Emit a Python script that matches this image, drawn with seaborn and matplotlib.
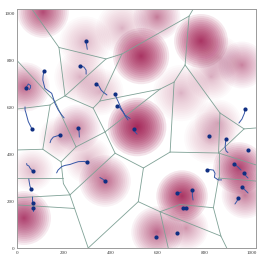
import numpy as np
import pandas as pd
import matplotlib
matplotlib.use("Agg")
import matplotlib.pyplot as plt
from matplotlib.patches import Circle
import seaborn as sns

sns.set_theme(style="white")
plt.rcParams["font.family"] = ["Liberation Serif", "DejaVu Serif"]

# resource patches (centre, radius, strength)
blob_x = [110, 597, 785, 529, 960, 862, 290, 33, 268, 354, 700, 828, 858, 512, 255,
          29, 375, 302, 182, 63, 704, 947, 973, 597, 721, 823, 448]
blob_y = [1008, 987, 885, 820, 782, 812, 880, 688, 731, 667, 662, 731, 534, 517, 513,
          128, 286, 376, 470, 333, 222, 342, 226, 68, 85, 470, 940]
blob_r = [110, 100, 115, 120, 100, 95, 110, 105, 110, 100, 120, 100, 100, 125, 100,
          115, 110, 100, 90, 90, 110, 110, 100, 110, 95, 110, 110]
blob_s = [0.75, 0.55, 0.85, 0.85, 0.5, 0.28, 0.32, 0.65, 0.28, 0.28, 0.32, 0.28, 0.32, 0.9, 0.5,
          0.8, 0.65, 0.28, 0.28, 0.28, 0.85, 0.8, 0.55, 0.65, 0.42, 0.32, 0.28]

# voronoi edges, start (x0, y0) -> end (x1, y1)
edge_x0 = [63, 178, 379, 447, 734, 734, 717, 717,
           866, 969, 866, 860, 670, 610, 610, 670,
           447, 353, 324, 204, 204, 204, 204, 0,
           161, 161, 0, 140, 0, 109, 187, 251,
           375, 418, 418, 539, 653, 539, 517, 187,
           197, 225, 0, 0, 0, 517, 610, 610,
           695, 838, 860, 860, 860, 838, 870, 610]
edge_y0 = [1020, 857, 808, 829, 991, 991, 782, 782,
           577, 509, 577, 406, 709, 679, 679, 709,
           829, 628, 598, 650, 650, 650, 650, 800,
           626, 626, 594, 611, 419, 422, 368, 432,
           496, 405, 405, 342, 410, 342, 198, 368,
           275, 227, 300, 215, 184, 198, 155, 155,
           186, 172, 299, 299, 406, 172, 51, 155]
edge_x1 = [178, 379, 447, 734, 751, 717, 670, 866,
           969, 1020, 860, 969, 610, 353, 375, 653,
           353, 324, 375, 178, 379, 324, 161, 161,
           251, 140, 140, 109, 109, 187, 251, 375,
           418, 539, 225, 653, 860, 517, 303, 197,
           225, 303, 197, 225, 245, 610, 645, 695,
           838, 860, 860, 1020, 1020, 870, 895, 870]
edge_y1 = [857, 808, 829, 991, 1020, 782, 709, 577,
           509, 513, 406, 509, 679, 628, 496, 410,
           628, 598, 496, 857, 808, 598, 626, 626,
           432, 611, 611, 422, 422, 368, 432, 496,
           405, 342, 227, 410, 406, 198, 0, 275,
           227, 0, 300, 227, 169, 155, 0, 186,
           172, 299, 406, 286, 355, 51, 0, 51]

# agents: current position, then trail points going back in time
agent_x = [292, 268, 114, 37, 338, 418, 426, 62, 261, 184, 299, 66, 59, 66, 66, 375, 500,
           973, 819, 892, 984, 927, 970, 962, 944, 809, 682, 748, 708, 721, 591, 682]
agent_y = [883, 779, 758, 685, 701, 659, 607, 510, 513, 483, 366, 328, 251, 191, 170, 286, 507,
           594, 479, 466, 417, 359, 322, 259, 215, 333, 233, 248, 173, 169, 49, 65]
trail_x = [[296, 299], [285, 294, 294], [110, 109, 118, 147, 161, 175, 190, 200],
           [47, 57, 56, 51], [349, 358, 366, 383], [422, 430, 443, 460, 482],
           [435, 452, 464, 473], [47, 37, 33, 33], [264, 265], [170, 154, 144, 140],
           [285, 261, 242, 225, 204, 190, 174, 168], [54, 50, 41, 40], [54, 51, 49],
           [65, 65], [66], [364, 353], [503, 512],
           [971, 960, 947], [], [890, 888, 892, 900], [], [943, 956], [977, 986],
           [973, 986], [939, 930], [823, 838, 845, 842, 859, 873], [700], [748, 751],
           [], [], [], []]
trail_y = [[868, 849], [773, 760, 743], [735, 718, 682, 661, 618, 590, 568, 556],
           [701, 694, 684, 677], [692, 675, 667, 654], [645, 628, 598, 568, 553],
           [603, 581, 560, 547], [540, 577, 590, 603], [496, 474], [479, 474, 462, 450],
           [370, 369, 363, 357, 353, 348, 333, 321], [342, 350, 355, 361], [265, 282, 295],
           [205, 218], [158], [295, 301], [496, 487],
           [577, 551, 534], [], [453, 432, 415, 408], [], [346, 333], [308, 299],
           [248, 235], [201, 188], [335, 333, 319, 302, 291, 291], [239], [226, 205],
           [], [], [], []]

PINK = "#a0164e"
EDGE = "#7fa196"
TRAIL = "#3556a6"
DOT = "#102f82"
LIM = 1020

fig, ax = plt.subplots(figsize=(2.63, 2.63), dpi=100)
ax.set_position([0.0658, 0.057, 0.9076, 0.9076])

# soft radial gradient: many faint stacked discs, denser toward the centre
n_rings = 18
ring_frac = np.linspace(1, 0.06, n_rings) ** 1.4
for x, y, r, s in zip(blob_x, blob_y, blob_r, blob_s):
    a = 1 - (1 - s) ** (1 / n_rings)
    for f in ring_frac:
        ax.add_patch(Circle((x, y), r * f, facecolor=PINK, edgecolor="none",
                            alpha=a, zorder=1))

edges = pd.DataFrame({
    "edge": np.repeat(np.arange(len(edge_x0)), 2),
    "x": np.ravel(np.column_stack([edge_x0, edge_x1])),
    "y": np.ravel(np.column_stack([edge_y0, edge_y1])),
})
sns.lineplot(data=edges, x="x", y="y", units="edge", estimator=None, sort=False,
             color=EDGE, lw=0.6, ax=ax, zorder=2)

rows = []
for i, (x0, y0, tx, ty) in enumerate(zip(agent_x, agent_y, trail_x, trail_y)):
    for px, py in zip([x0] + tx, [y0] + ty):
        rows.append((i, px, py))
trails = pd.DataFrame(rows, columns=["agent", "x", "y"])
sns.lineplot(data=trails, x="x", y="y", units="agent", estimator=None, sort=False,
             color=TRAIL, lw=0.7, ax=ax, zorder=3)

agents = pd.DataFrame({"x": agent_x, "y": agent_y})
sns.scatterplot(data=agents, x="x", y="y", color=DOT, s=9, linewidth=0, ax=ax, zorder=4)

ax.set_xlim(0, LIM)
ax.set_ylim(0, LIM)
ticks = [0, 200, 400, 600, 800, 1000]
ax.set_xticks(ticks)
ax.set_yticks(ticks)
ax.tick_params(labelsize=3.6, length=1, width=0.4, pad=1, colors="#333333")
ax.set_xlabel("")
ax.set_ylabel("")
for sp in ax.spines.values():
    sp.set_color("#9a9a9a")
    sp.set_linewidth(0.7)

fig.savefig("out.png", dpi=100)
